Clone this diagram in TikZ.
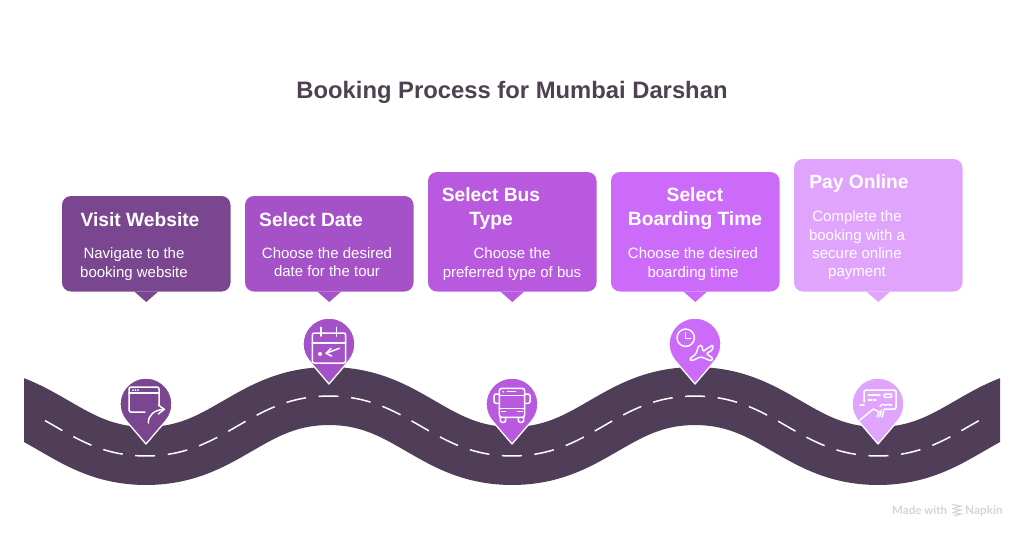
\documentclass[tikz,border=0pt]{standalone}
\usepackage{fontspec}
\setmainfont{Liberation Sans}
\newfontfamily\markfont{Lato}
\usetikzlibrary{positioning}
\definecolor{roadcol}{HTML}{503D57}
\definecolor{titlecol}{HTML}{4D4152}
\definecolor{visitcol}{HTML}{7A468F}
\definecolor{datecol}{HTML}{A552C8}
\definecolor{buscol}{HTML}{B859E0}
\definecolor{timecol}{HTML}{CC6BFA}
\definecolor{paycol}{HTML}{E1A4FD}
\definecolor{markcol}{HTML}{D8D2DB}
\tikzset{
  bubble/.style={rounded corners=9pt,minimum width=168.5pt,inner sep=0pt,outer sep=0pt},
  headtext/.style={text=white,align=center,inner sep=0pt,font=\fontsize{19.2}{24}\bfseries\selectfont},
  bodytext/.style={text=white,align=center,inner sep=0pt,font=\fontsize{15}{18.3}\selectfont},
  iconline/.style={draw=white,line width=1.5pt,line cap=round,line join=round,fill=none},
}
\begin{document}
\begin{tikzpicture}[x=1pt,y=-1pt,node distance=14.5pt]
\useasboundingbox (0,0) rectangle (1024,536);
\node[text=titlecol,inner sep=0pt,font=\fontsize{23.8}{30}\bfseries\selectfont] (title) at (512,92.5) {Booking Process for Mumbai Darshan};

\begin{scope}
\clip (24,340) rectangle (1000,500);
\draw[roadcol,line width=58pt] plot[domain=-10:1034,samples=180,smooth] (\x,{426+30.9*(cos((\x-146)/183*180)-0.03*cos(3*(\x-146)/183*180))});
\end{scope}
\draw[white,line width=1.5pt,dash pattern=on 20pt off 12.6pt] plot[domain=45:979,samples=180,smooth] (\x,{426+30.9*(cos((\x-146)/183*180)-0.03*cos(3*(\x-146)/183*180))});

\node[bubble,fill=visitcol,minimum height=95.5pt,anchor=south west] (visit) at (62,291.5) {};
\node[bubble,fill=datecol,minimum height=95.5pt,right=of visit.south east,anchor=south west] (date) {};
\node[bubble,fill=buscol,minimum height=119.5pt,right=of date.south east,anchor=south west] (bus) {};
\node[bubble,fill=timecol,minimum height=119.5pt,right=of bus.south east,anchor=south west] (time) {};
\node[bubble,fill=paycol,minimum height=132.5pt,right=of time.south east,anchor=south west] (pay) {};
\foreach \bub/\col in {visit/visitcol,date/datecol,bus/buscol,time/timecol,pay/paycol}{
  \fill[\col] ([xshift=-12pt]\bub.south) -- ([xshift=12pt]\bub.south) -- ([yshift=-10.5pt]\bub.south) -- cycle;
}

\node[headtext] (visithead) at (140,219.5) {Visit Website};
\node[bodytext] (visitbody) at (134,264) {Navigate to the\\booking website};
\node[headtext] (datehead) at (311,219.5) {Select Date};
\node[bodytext] (datebody) at (327,262) {Choose the desired\\date for the tour};
\node[headtext] (bushead) at (491,209) {Select Bus\\Type};
\node[bodytext] (busbody) at (512,264) {Choose the\\preferred type of bus};
\node[headtext] (timehead) at (695,209) {Select\\Boarding Time};
\node[bodytext] (timebody) at (693,264) {Choose the desired\\boarding time};
\node[headtext] (payhead) at (859,184) {Pay Online};
\node[bodytext] (paybody) at (857,245.5) {Complete the\\booking with a\\secure online\\payment};

\coordinate (visitpin) at (146,404);
\coordinate (datepin) at (329,344);
\coordinate (buspin) at (512,404);
\coordinate (timepin) at (695,344);
\coordinate (paypin) at (878,404);
\foreach \pin/\col in {visitpin/visitcol,datepin/datecol,buspin/buscol,timepin/timecol,paypin/paycol}{
  \begin{scope}[shift={(\pin)}]
  \draw[fill=\col,draw=white,line width=1.3pt,line join=round] (0,40) -- (40.54:26) arc[start angle=40.54,end angle=-220.54,radius=26] -- cycle;
  \end{scope}
}

\begin{scope}[shift={(visitpin)}]
\draw[iconline,rounded corners=2pt] (-1,8) -- (-17,8) -- (-17,-17) -- (13,-17) -- (13,1);
\draw[iconline] (-17,-11) -- (13,-11);
\foreach \dotx in {-13,-10.5,-8}{\fill[white] (\dotx,-14) circle (1);}
\draw[iconline] (2.3,19) .. controls (2.3,11) and (8,6) .. (18.3,5.3);
\draw[iconline] (12.3,1) -- (18.3,5.3) -- (12.3,10);
\end{scope}

\begin{scope}[shift={(datepin)}]
\draw[iconline,rounded corners=2pt] (-16.7,-11) rectangle (16.7,19);
\draw[iconline] (-16.7,-1) -- (16.7,-1);
\draw[iconline] (-8,-16.7) -- (-8,-8);
\draw[iconline] (7.7,-16.7) -- (7.7,-8);
\fill[white] (-9,10) circle (2);
\draw[iconline] (10.3,4.3) -- (-3,9.3);
\draw[iconline] (2,4.3) -- (-3,9.3) -- (2.7,12);
\end{scope}

\begin{scope}[shift={(buspin)}]
\draw[iconline,rounded corners=2.5pt] (-12.7,-15.7) rectangle (12.7,13.3);
\draw[iconline] (-12.7,-8.3) -- (12.7,-8.3);
\draw[iconline] (-12.7,4.3) -- (12.7,4.3);
\draw[iconline] (-4.7,-12.3) -- (3.7,-12.3);
\fill[white] (-8.7,-12.3) circle (1);
\draw[iconline] (-10.3,7.7) -- (-6.3,7.7);
\draw[iconline] (5.7,7.7) -- (10.3,7.7);
\draw[iconline,rounded corners=1.5pt] (-12.7,-10) -- (-18,-10) -- (-18,-0.7) -- (-12.7,-0.7);
\draw[iconline,rounded corners=1.5pt] (12.7,-10) -- (18,-10) -- (18,-0.7) -- (12.7,-0.7);
\draw[iconline,rounded corners=1.5pt] (-11.7,13.3) -- (-11.7,18.3) -- (-6.3,18.3) -- (-6.3,13.3);
\draw[iconline,rounded corners=1.5pt] (6.3,13.3) -- (6.3,18.3) -- (11.7,18.3) -- (11.7,13.3);
\end{scope}

\begin{scope}[shift={(timepin)}]
\draw[iconline] (-9.3,-6.3) circle (8.7);
\draw[iconline] (-9.3,-11.3) -- (-9.3,-5.7) -- (-4.3,-5.7);
\draw[iconline,rounded corners=1.5pt] (-5.7,15) -- (1,10) -- (3.7,1.3) -- (7.3,1.7) -- (7.7,7.7) -- (15,2.7) -- (18.3,0.7) -- (17,6.7) -- (11,9.3) -- (18.3,14.7) -- (16.3,17) -- (5.7,12.7) -- (-3.3,17) -- cycle;
\end{scope}

\begin{scope}[shift={(paypin)}]
\draw[iconline,rounded corners=1.5pt] (-14,-2) -- (-14,-14) -- (18,-14) -- (18,5) -- (6,5);
\draw[iconline] (-9.7,-9) -- (2,-9);
\draw[iconline] (-9.7,-4) -- (-6.3,-4);
\draw[iconline] (-4.7,-4) -- (-2,-4);
\draw[iconline,rounded corners=1pt] (6,-10) rectangle (13.7,-6.7);
\draw[iconline] (2,2.7) .. controls (4,-1) and (5,1) .. (7,1) .. controls (9,-1) and (11,2) .. (13.7,1);
\draw[iconline] (-18,1) -- (-14,1);
\draw[iconline] (-18,16) -- (-4.7,5) -- (1,7.7) -- (-1,13);
\draw[iconline] (1.5,13) -- (3.5,6);
\draw[iconline] (4,13) -- (6,6);
\end{scope}

\node[text=markcol,inner sep=0pt,anchor=west,font=\markfont\fontsize{11.5}{14}\bfseries\selectfont] (madewith) at (892,510.5) {Made with};
\node[text=markcol,inner sep=0pt,anchor=west,font=\markfont\fontsize{11.8}{14}\bfseries\selectfont] (napkin) at (965,511) {Napkin};
\foreach \logoy in {506,510,514}{
  \draw[markcol,line width=1.2pt] (952,\logoy-1.5) -- (961,\logoy) -- (954,\logoy+2);
}
\end{tikzpicture}
\end{document}
